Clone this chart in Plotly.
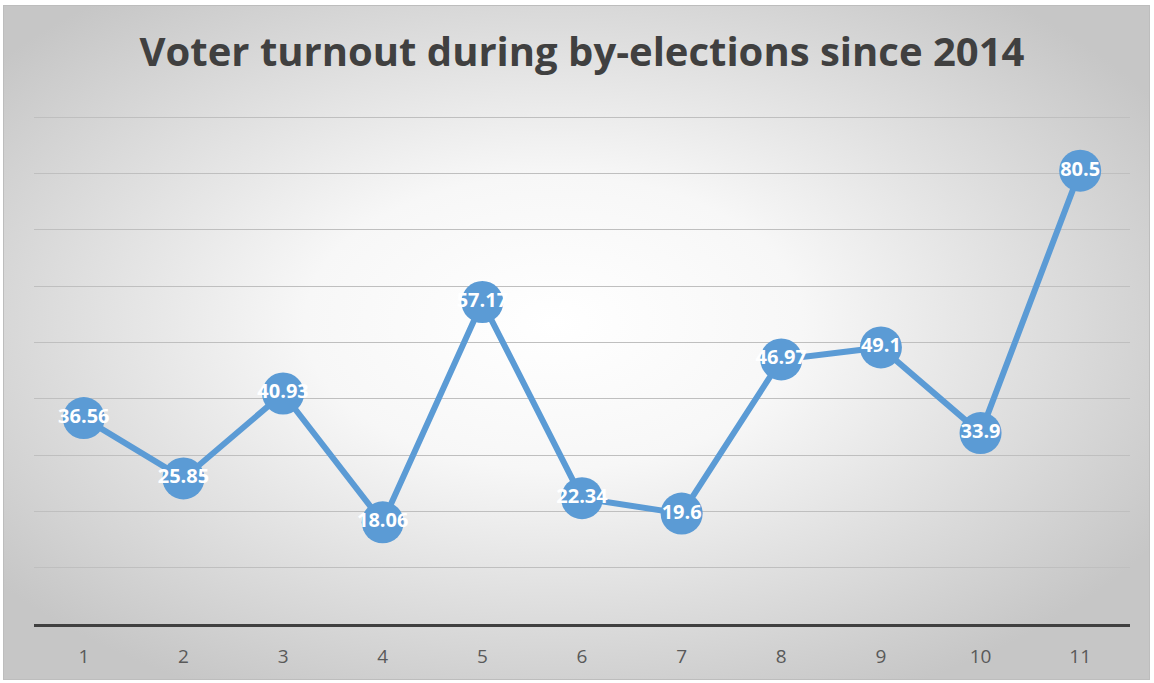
import base64
import plotly.graph_objects as go

categories = ["1", "2", "3", "4", "5", "6", "7", "8", "9", "10", "11"]
turnout = [36.56, 25.85, 40.93, 18.06, 57.17, 22.34, 19.6, 46.97, 49.1, 33.9, 80.5]
labels = ["36.56", "25.85", "40.93", "18.06", "57.17", "22.34", "19.6", "46.97", "49.1", "33.9", "80.5"]
title_text = "Voter turnout during by-elections since 2014"

W, H = 1154, 683
ML, MR, MT, MB = 34, 24, 116, 59
PW, PH = W - ML - MR, H - MT - MB

svg = (
    '<svg xmlns="http://www.w3.org/2000/svg" width="1147" height="675" viewBox="0 0 1147 675" preserveAspectRatio="none">'
    '<defs><radialGradient id="g" cx="48%" cy="47%" r="62%" gradientUnits="objectBoundingBox">'
    '<stop offset="0" stop-color="#ffffff"/><stop offset="0.35" stop-color="#f7f7f7"/>'
    '<stop offset="1" stop-color="#c6c6c6"/></radialGradient></defs>'
    '<rect x="0" y="0" width="1147" height="675" fill="url(#g)" stroke="#bdbdbd" stroke-width="2"/></svg>'
)
src = "data:image/svg+xml;base64," + base64.b64encode(svg.encode()).decode()

def px_to_paper_x(p):
    return (p - ML) / PW

def px_to_paper_y(p):
    return (H - MB - p) / PH

fig = go.Figure()
fig.add_trace(go.Scatter(
    x=categories, y=turnout, mode="lines+markers+text",
    text=labels, textposition="middle center",
    textfont=dict(family="Open Sans", size=20, color="white", weight="bold"),
    line=dict(color="#5B9BD5", width=6),
    marker=dict(size=42, color="#5B9BD5"),
    cliponaxis=False, hoverinfo="skip",
))

fig.update_layout(
    width=W, height=H,
    margin=dict(l=ML, r=MR, t=MT, b=MB),
    paper_bgcolor="white", plot_bgcolor="rgba(0,0,0,0)",
    showlegend=False,
    title=dict(text="<b>" + title_text + "</b>", xref="paper", x=0.5, xanchor="center",
               y=1 - 52 / H, yanchor="middle",
               font=dict(family="Open Sans", size=40, color="#404040")),
    images=[dict(source=src, xref="paper", yref="paper",
                 x=px_to_paper_x(3), y=px_to_paper_y(5),
                 sizex=(1150 - 3) / PW, sizey=(680 - 5) / PH,
                 sizing="stretch", layer="below", xanchor="left", yanchor="top")],
    xaxis=dict(type="category", showgrid=False, showline=True, linecolor="#404040",
               linewidth=3, ticks="", tickfont=dict(family="Open Sans", size=19, color="#595959"),
               ticklabelstandoff=13, range=[-0.5, 10.5], fixedrange=True),
    yaxis=dict(range=[0, 90.2], dtick=10, showgrid=True, gridcolor="#bfbfbf", gridwidth=1,
               showticklabels=False, zeroline=False, showline=False, ticks="", fixedrange=True),
)

fig.write_html("out.html", post_script="document.body.style.margin='0';",
               config={"displayModeBar": False})
